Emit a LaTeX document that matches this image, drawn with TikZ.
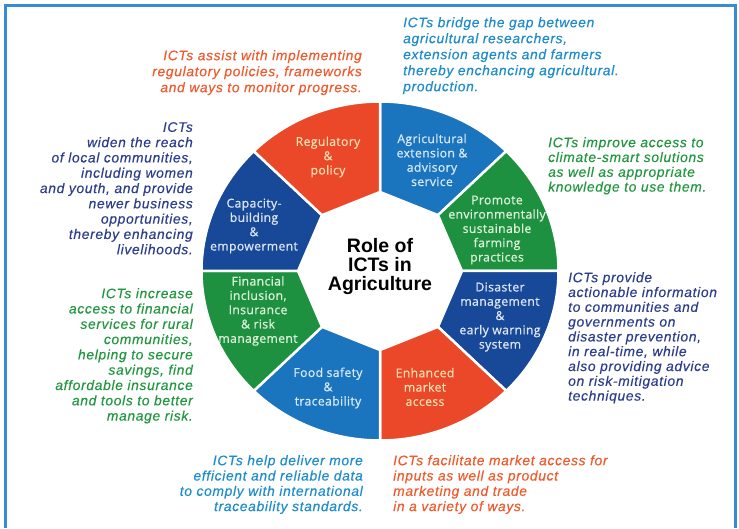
\documentclass[tikz,border=0pt]{standalone}
\usepackage{fontspec}
\setmainfont{Liberation Sans}
\newfontfamily\wedgefont[FakeBold=0.8,LetterSpace=3]{Open Sans}
\newfontfamily\sidefont[LetterSpace=5,FakeBold=0.4]{Liberation Sans}
\newfontfamily\titlefont{Liberation Sans}
\definecolor{wred}{RGB}{234,72,40}
\definecolor{wblue}{RGB}{26,117,190}
\definecolor{wnavy}{RGB}{24,72,152}
\definecolor{wgreen}{RGB}{30,145,65}
\definecolor{torange}{RGB}{240,90,45}
\definecolor{tblue}{RGB}{30,140,205}
\definecolor{tnavy}{RGB}{45,62,140}
\definecolor{tgreen}{RGB}{35,150,65}
\definecolor{frameblue}{RGB}{52,141,214}
\definecolor{onred}{RGB}{250,222,175}
\definecolor{onblue}{RGB}{215,232,248}
\definecolor{ongreen}{RGB}{222,242,218}
\definecolor{onnavy}{RGB}{222,230,246}
\begin{document}
\begin{tikzpicture}[x=1pt,y=1pt,
  wtext/.style={font=\wedgefont\fontsize{12.2}{14.3}\selectfont, align=center, inner sep=0pt},
  side/.style={font=\sidefont\itshape\fontsize{13.8}{15.3}\selectfont, inner sep=0pt},
  sidetop/.style={side, font=\sidefont\itshape\fontsize{13.8}{16}\selectfont},
  sideright/.style={side, font=\sidefont\itshape\fontsize{13.8}{14.8}\selectfont},
  seg/.style={draw=white, line width=2.5pt, line join=miter}]
\useasboundingbox (0,0) rectangle (739,528);
\draw[frameblue, line width=3pt] (5.5,0) -- (5.5,522.5) -- (735.5,522.5) -- (735.5,0);
\begin{scope}[shift={(380,257)}]
\foreach \a/\c in {45/wblue, 0/wgreen, -45/wnavy, -90/wred, -135/wblue, -180/wgreen, 135/wnavy, 90/wred}
  \filldraw[seg, fill=\c] (\a:82pt and 79pt) -- (\a:178.5pt and 169.5pt)
     arc[start angle=\a, end angle={\a+45}, x radius=178.5pt, y radius=169.5pt]
     -- ({\a+45}:82pt and 79pt) -- cycle;
\end{scope}
\node[font=\titlefont\bfseries\fontsize{19.5}{19}\selectfont, align=center, inner sep=0pt] (title) at (380,261) {Role of\\ICTs in\\Agriculture};
\node[wtext, text=onred] (reg) at (328,371) {Regulatory\\\&\\policy};
\node[wtext, text=onblue] (ext) at (432,368) {Agricultural\\extension \&\\advisory\\service};
\node[wtext, text=ongreen] (env) at (497,298) {Promote\\environmentally\\sustainable\\farming\\practices};
\node[wtext, text=onnavy] (dis) at (500,211) {Disaster\\management\\\&\\early warning\\system};
\node[wtext, text=onred] (mkt) at (425,141) {Enhanced\\market\\access};
\node[wtext, text=onblue] (food) at (328,140) {Food safety\\\&\\traceability};
\node[wtext, text=ongreen] (fin) at (258,217) {Financial\\inclusion,\\Insurance\\\& risk\\management};
\node[wtext, text=onnavy] (cap) at (254,302) {Capacity-\\building\\\&\\empowerment};
\node[sidetop, text=torange, align=right, anchor=north east] (tregs) at (362,478) {ICTs assist with implementing\\regulatory policies, frameworks\\and ways to monitor progress.};
\node[sidetop, text=tblue, align=left, anchor=north west] (texts) at (403,511) {ICTs bridge the gap between\\agricultural researchers,\\extension agents and farmers\\thereby enchancing agricultural.\\production.};
\node[side, text=tnavy, align=right, anchor=north east] (tcap) at (193,406) {ICTs\\widen the reach\\of local communities,\\including women\\and youth, and provide\\newer business\\opportunities,\\thereby enhancing\\livelihoods.};
\node[side, text=tgreen, align=right, anchor=north east] (tfin) at (193,240) {ICTs increase\\access to financial\\services for rural\\communities,\\helping to secure\\savings, find\\affordable insurance\\and tools to better\\manage risk.};
\node[sideright, text=tgreen, align=left, anchor=north west] (tenv) at (548,391) {ICTs improve access to\\climate-smart solutions\\as well as appropriate\\knowledge to use them.};
\node[sideright, text=tnavy, align=left, anchor=north west] (tdis) at (568,256) {ICTs provide\\actionable information\\to communities and\\governments on\\disaster prevention,\\in real-time, while\\also providing advice\\on risk-mitigation\\techniques.};
\node[side, text=tblue, align=right, anchor=north east] (tfood) at (363,73) {ICTs help deliver more\\efficient and reliable data\\to comply with international\\traceability standards.};
\node[side, text=torange, align=left, anchor=north west] (tmkt) at (393,73) {ICTs facilitate market access for\\inputs as well as product\\marketing and trade\\in a variety of ways.};
\end{tikzpicture}
\end{document}
